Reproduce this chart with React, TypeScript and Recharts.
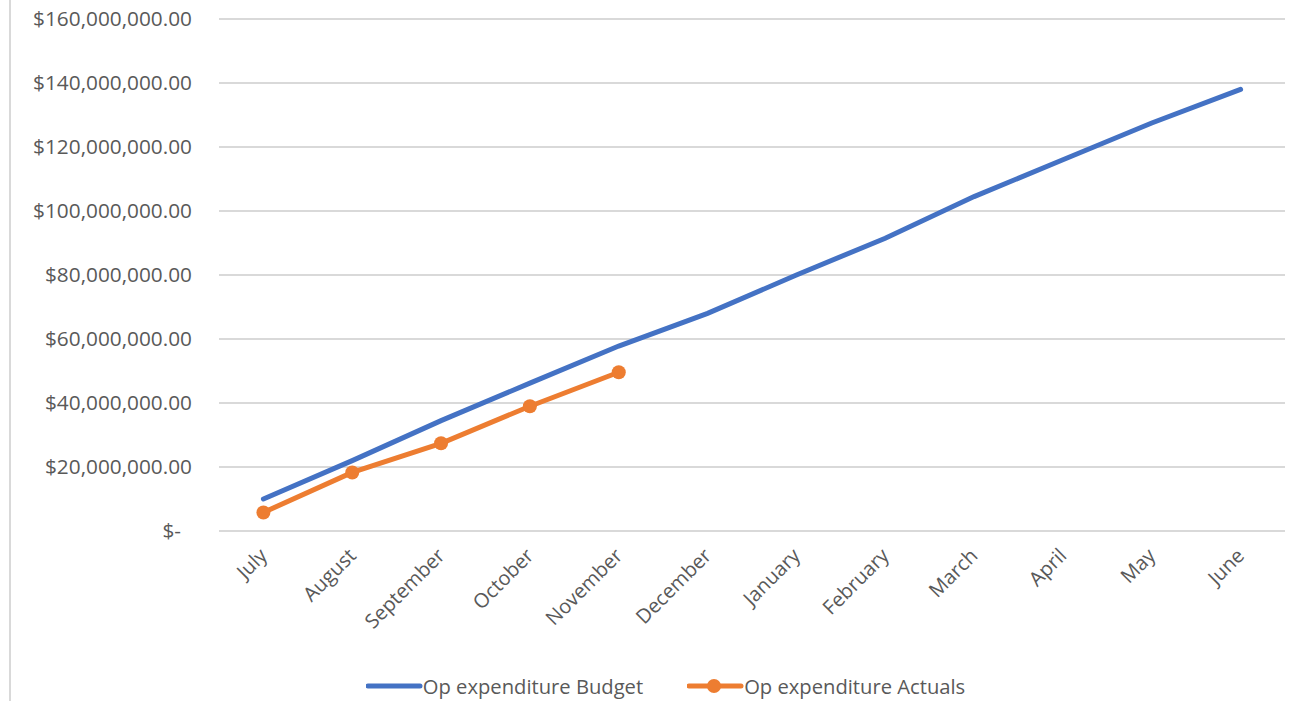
import { LineChart, Line, XAxis, YAxis, CartesianGrid, Legend } from 'recharts'

const months = ['July', 'August', 'September', 'October', 'November', 'December', 'January', 'February', 'March', 'April', 'May', 'June']
const budget = [10.0, 22.0, 34.5, 46.2, 57.8, 68.0, 80.0, 91.5, 104.5, 116.0, 127.5, 138.0]
const actuals = [5.8, 18.3, 27.4, 39.0, 49.6]
const yTicks = [0, 20, 40, 60, 80, 100, 120, 140, 160]

const data = months.map((m, i) => ({
  month: m,
  budget: budget[i] * 1e6,
  actuals: i < actuals.length ? actuals[i] * 1e6 : null,
}))

const BLUE = '#4472C4'
const ORANGE = '#ED7D31'
const TEXT = '#595959'
const FONT = '"Open Sans", sans-serif'

function money(v: number) {
  if (v === 0) return '$-'
  return '$' + v.toLocaleString('en-US', { minimumFractionDigits: 2, maximumFractionDigits: 2 })
}

function YTick(props: any) {
  const { x, y, payload } = props
  const shift = payload.value === 0 ? -11 : 0
  return (
    <text x={x + shift} y={y} dy="0.35em" textAnchor="end" fill={TEXT} fontSize={20.8} fontFamily={FONT}>
      {money(payload.value)}
    </text>
  )
}

function XTick(props: any) {
  const { x, y, payload } = props
  return (
    <text
      transform={`translate(${x},${y + 13}) rotate(-45)`}
      textAnchor="end"
      dy="0.35em"
      fill={TEXT}
      fontSize={20}
      fontFamily={FONT}
    >
      {payload.value}
    </text>
  )
}

function LegendBox() {
  const item = (color: string, label: string, dot: boolean) => (
    <div style={{ display: 'flex', alignItems: 'center', marginRight: 44 }}>
      <svg width={57} height={16}>
        <line x1={2} y1={8} x2={54} y2={8} stroke={color} strokeWidth={5} strokeLinecap="round" />
        {dot && <circle cx={27} cy={8} r={7} fill={color} />}
      </svg>
      <span style={{ color: TEXT, fontSize: 20.2, fontFamily: FONT }}>{label}</span>
    </div>
  )
  return (
    <div style={{ display: 'flex', justifyContent: 'center', paddingLeft: 81 }}>
      {item(BLUE, 'Op expenditure Budget', false)}
      {item(ORANGE, 'Op expenditure Actuals', true)}
    </div>
  )
}

export default function App() {
  return (
    <div style={{ position: 'absolute', left: 0, top: 0, width: 1294, height: 701, background: '#fff' }}>
      <div style={{ position: 'absolute', left: 9, top: 0, width: 2, height: 701, background: '#D9D9D9' }} />
      <LineChart width={1294} height={701} data={data} margin={{ top: 19, right: 9, left: 0, bottom: 50 }}>
        <CartesianGrid vertical={false} stroke="#D9D9D9" strokeWidth={2} />
        <XAxis
          dataKey="month"
          scale="band"
          height={120}
          axisLine={false}
          tickLine={false}
          interval={0}
          tick={<XTick />}
        />
        <YAxis
          width={219}
          domain={[0, 160e6]}
          ticks={yTicks.map((t) => t * 1e6)}
          axisLine={false}
          tickLine={false}
          tickSize={0}
          tickMargin={27}
          tick={<YTick />}
        />
        <Legend
          layout="horizontal"
          verticalAlign="middle"
          align="center"
          content={<LegendBox />}
          wrapperStyle={{ top: 672, left: 0, width: 1294 }}
        />
        <Line
          dataKey="budget"
          name="Op expenditure Budget"
          stroke={BLUE}
          strokeWidth={5}
          strokeLinecap="round"
          dot={false}
          isAnimationActive={false}
        />
        <Line
          dataKey="actuals"
          name="Op expenditure Actuals"
          stroke={ORANGE}
          strokeWidth={5}
          strokeLinecap="round"
          dot={{ r: 7, fill: ORANGE, stroke: ORANGE, strokeWidth: 0 }}
          isAnimationActive={false}
        />
      </LineChart>
    </div>
  )
}
